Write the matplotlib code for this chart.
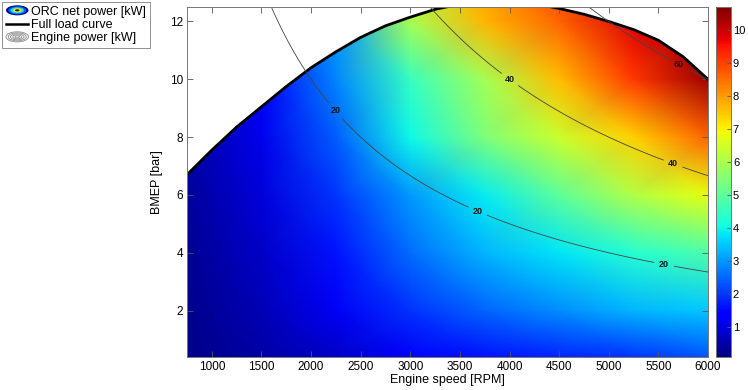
import numpy as np
import matplotlib
matplotlib.use("Agg")
import matplotlib.pyplot as plt
from matplotlib.patches import Ellipse, Polygon, Patch
from matplotlib.legend_handler import HandlerBase
from matplotlib.lines import Line2D

plt.rcParams['font.family'] = ['Liberation Sans', 'DejaVu Sans']

# ORC net power [kW] on a coarse speed x BMEP grid
speed_rpm = [750, 1500, 2250, 3000, 3750, 4500, 5250, 6000]
bmep_bar = [0.4, 2, 4, 6, 8, 10, 12, 13]
orc_kw = [
    [0.20, 0.45, 0.80, 1.25, 1.60, 1.80, 2.00, 2.30],
    [0.25, 0.60, 1.20, 1.95, 2.50, 2.90, 3.30, 3.50],
    [0.30, 0.80, 1.60, 2.55, 3.30, 3.80, 4.30, 4.80],
    [0.35, 0.95, 2.00, 3.00, 3.90, 5.00, 6.10, 6.80],
    [0.45, 1.10, 2.40, 4.00, 5.40, 6.40, 7.40, 8.60],
    [0.55, 1.40, 2.80, 4.50, 5.90, 7.60, 9.10, 10.40],
    [0.65, 1.80, 3.00, 5.90, 7.70, 8.60, 9.80, 10.60],
    [0.75, 2.00, 3.30, 6.30, 7.90, 8.90, 10.10, 10.70],
]

# full load curve
load_speed = [750, 1000, 1250, 1500, 1750, 2000, 2250, 2500, 2750, 3000, 3250, 3500,
              3750, 4000, 4250, 4500, 4750, 5000, 5250, 5500, 5750, 6000]
load_bmep = [6.7, 7.55, 8.35, 9.05, 9.75, 10.4, 10.95, 11.45, 11.85, 12.15, 12.42, 12.6,
             12.68, 12.7, 12.62, 12.45, 12.25, 12.0, 11.72, 11.35, 10.78, 10.0]

# engine power iso-lines [kW], 1.2 l displacement, 4-stroke
power_levels = [20, 40, 60]
displacement_l = 1.2
label_spots = [(2240, 8.9), (3680, 5.45), (5560, 3.65), (4000, 9.97), (5650, 7.1), (5700, 10.5)]

ymin, ymax = 0.4, 12.5


class RingHandler(HandlerBase):
    """concentric ellipses, like the matlab contour legend icon"""
    def __init__(self, faces, edges):
        super().__init__()
        self.faces = faces
        self.edges = edges

    def create_artists(self, legend, orig_handle, xdescent, ydescent,
                       width, height, fontsize, trans):
        cx = width / 2 - xdescent
        cy = height / 2 - ydescent
        arts = []
        n = len(self.faces)
        for i, (fc, ec) in enumerate(zip(self.faces, self.edges)):
            s = 1 - i / n
            arts.append(Ellipse((cx, cy), width * s, height * 1.15 * s,
                                facecolor=fc, edgecolor=ec, lw=0.7, transform=trans))
        return arts


fig = plt.figure(figsize=(7.48, 3.90), dpi=100)
ax = fig.add_axes([0.25, 0.085, 0.6965, 0.897])
cax = fig.add_axes([0.957, 0.085, 0.020, 0.897])

S, Bm = np.meshgrid(speed_rpm, bmep_bar)
mesh = ax.pcolormesh(S, Bm, np.array(orc_kw), cmap='jet', vmin=0.1, vmax=10.7,
                     shading='gouraud')

# only the region under the full load curve is filled
clip_xy = list(zip(load_speed, load_bmep)) + [(load_speed[-1], ymin), (load_speed[0], ymin)]
clip = Polygon(clip_xy, closed=True, transform=ax.transData, facecolor='none', edgecolor='none')
ax.add_patch(clip)
mesh.set_clip_path(clip)

ax.plot(load_speed, load_bmep, color='black', lw=2.0, solid_capstyle='round')

n_f = np.linspace(speed_rpm[0], speed_rpm[-1], 300)
b_f = np.linspace(ymin, ymax, 200)
N, B = np.meshgrid(n_f, b_f)
engine_kw = B * 1e5 * displacement_l * 1e-3 * N / 120 / 1000
cs = ax.contour(N, B, engine_kw, levels=power_levels, colors='#444444', linewidths=0.6)
ax.clabel(cs, fmt='%d', fontsize=6.5, inline=True, inline_spacing=5, manual=label_spots)
for t in cs.labelTexts:
    t.set_rotation(0)
    t.set_color('#1a1a1a')
    t.set_fontweight('bold')

ax.set_xlim(750, 6000)
ax.set_ylim(ymin, ymax)
ax.set_xticks(range(1000, 6001, 500))
ax.set_yticks(range(2, 13, 2))
ax.tick_params(direction='in', top=True, right=True, length=4, width=0.6,
               labelsize=8.5, color='#555555', pad=3)
for sp in ax.spines.values():
    sp.set_color('#777777')
    sp.set_linewidth(0.7)
ax.set_xlabel('Engine speed [RPM]', fontsize=9, labelpad=1)
ax.set_ylabel('BMEP [bar]', fontsize=9, labelpad=5)

cb = fig.colorbar(mesh, cax=cax)
cb.set_ticks(range(1, 11))
cax.tick_params(direction='in', length=3, width=0.6, labelsize=8, color='#555555', pad=1.5)
cb.outline.set_edgecolor('#777777')
cb.outline.set_linewidth(0.7)

h_orc = Patch()
h_eng = Patch()
h_load = Line2D([], [], color='black', lw=1.8)
orc_faces = ['#00007f', '#0060ff', '#00e0ff', '#ffe000', '#202020']
eng_faces = ['white'] * 5
eng_edges = ['#999999'] * 5
leg = fig.legend([h_orc, h_load, h_eng],
                 ['ORC net power [kW]', 'Full load curve', 'Engine power [kW]'],
                 handler_map={h_orc: RingHandler(orc_faces, ['none'] * 5),
                              h_eng: RingHandler(eng_faces, eng_edges)},
                 loc='upper left', bbox_to_anchor=(0.003, 0.995), fontsize=9,
                 frameon=True, fancybox=False, handlelength=1.8, handletextpad=0.2,
                 borderpad=0.3, labelspacing=0.1, borderaxespad=0)
leg.get_frame().set_edgecolor('#777777')
leg.get_frame().set_linewidth(0.7)

fig.savefig('out.png', dpi=100)
